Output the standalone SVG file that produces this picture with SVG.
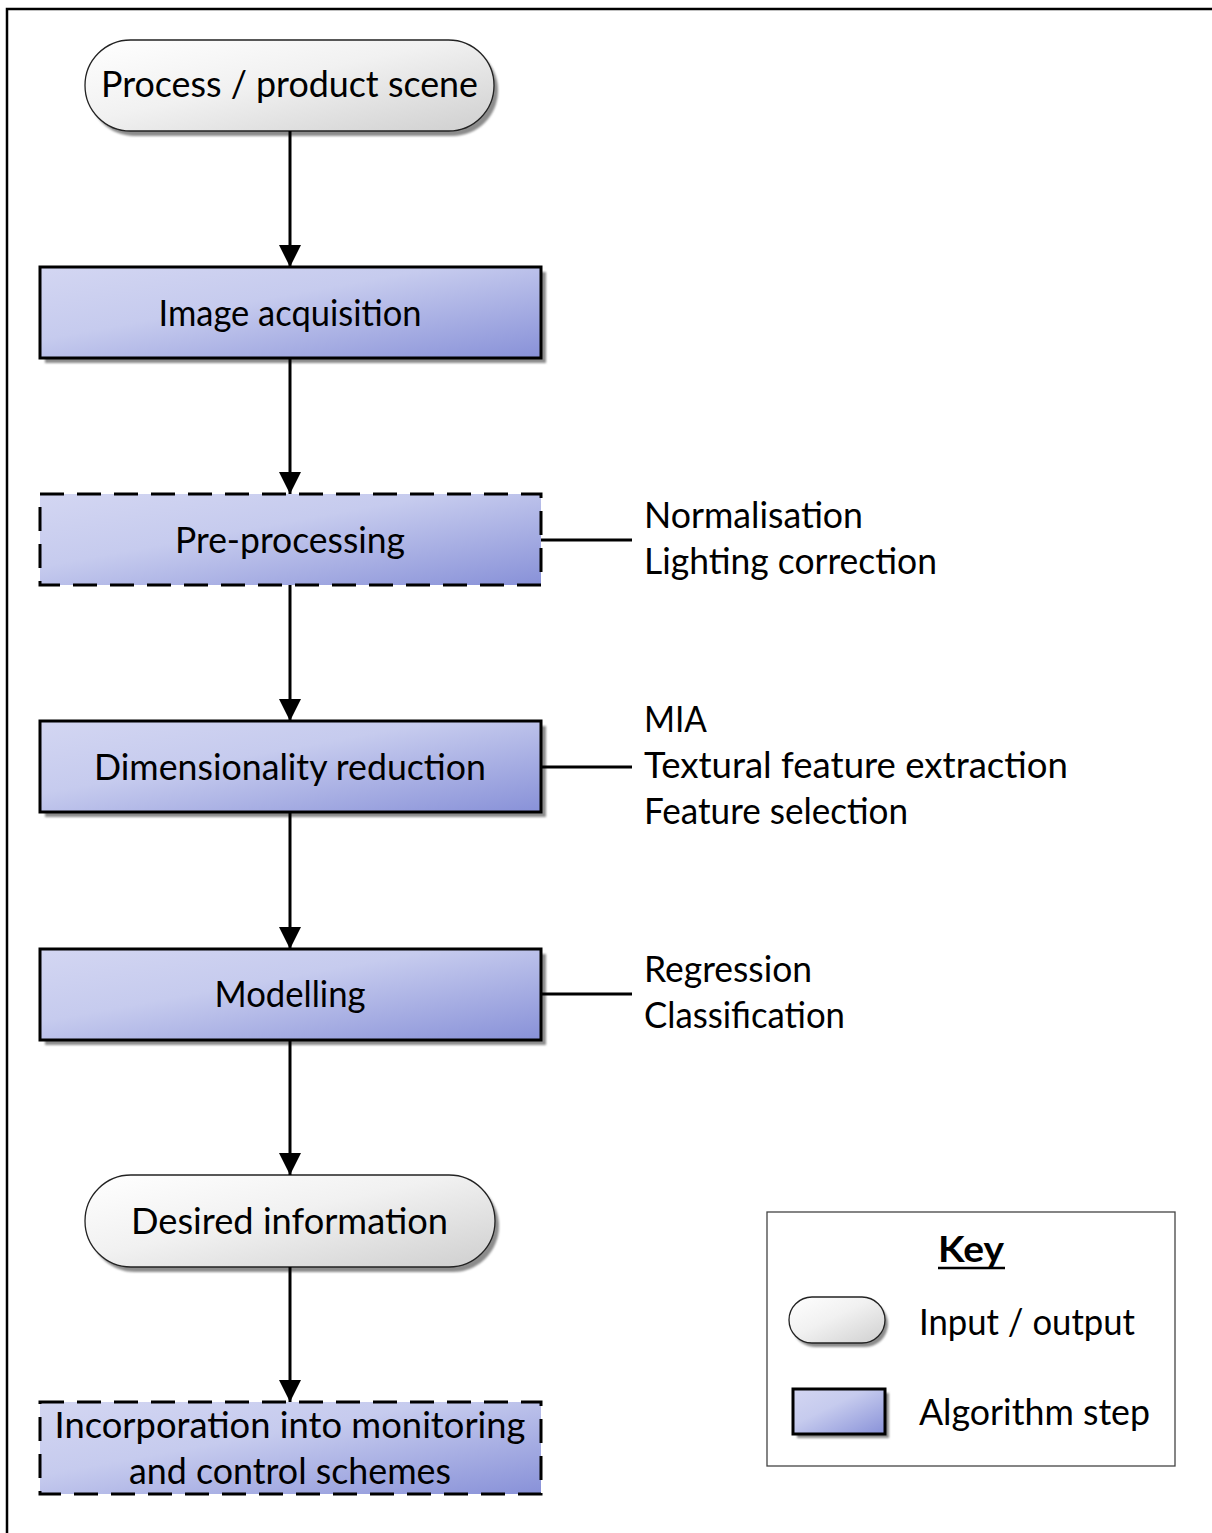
<svg xmlns="http://www.w3.org/2000/svg" width="1212" height="1533" viewBox="0 0 1212 1533">
  <defs>
    <linearGradient id="stepFill" x1="0" y1="0" x2="1" y2="1">
      <stop offset="0" stop-color="#d3d6f2"/>
      <stop offset="0.4" stop-color="#c6cbee"/>
      <stop offset="1" stop-color="#8891d8"/>
    </linearGradient>
    <linearGradient id="ioFill" x1="0" y1="0" x2="1" y2="1">
      <stop offset="0" stop-color="#ffffff"/>
      <stop offset="0.45" stop-color="#f1f1f1"/>
      <stop offset="1" stop-color="#cfcfcf"/>
    </linearGradient>
    <filter id="soft" x="-5%" y="-5%" width="110%" height="110%">
      <feGaussianBlur stdDeviation="1.2"/>
    </filter>
    <marker id="arrow" markerUnits="userSpaceOnUse" viewBox="0 0 22 22" markerWidth="22" markerHeight="22" refX="22" refY="11" orient="auto">
      <path d="M0,0 L22,11 L0,22 z" fill="#000"/>
    </marker>
    <style>
      text { font-family: Lato, "Liberation Sans", sans-serif; font-size: 36px; fill: #000; }
      .mid { text-anchor: middle; }
      .step { fill: url(#stepFill); stroke: #000; stroke-width: 3; }
      .dashed { stroke-dasharray: 24 13; }
      .io { fill: url(#ioFill); stroke: #222; stroke-width: 1.3; }
      .shadow { fill: #8c8c8c; filter: url(#soft); }
      .conn { stroke: #000; stroke-width: 3; fill: none; }
      .frame { stroke: #000; stroke-width: 2.5; fill: none; }
    </style>
  </defs>

  <rect width="1212" height="1533" fill="#fff"/>

  <!-- page frame: top and left rules -->
  <path class="frame" d="M7,1533 L7,9 L1212,9"/>

  <!-- input: process / product scene -->
  <g id="node-scene">
    <rect class="shadow" x="89" y="45" width="409" height="91" rx="45.5"/>
    <rect class="io" x="85" y="40" width="409" height="91" rx="45.5"/>
    <text class="mid" x="289.5" y="97" textLength="377" lengthAdjust="spacingAndGlyphs">Process / product scene</text>
  </g>

  <g id="node-acquisition">
    <rect class="shadow" x="45" y="272" width="501" height="91"/>
    <rect class="step" x="40" y="267" width="501" height="91"/>
    <text class="mid" x="290" y="326" textLength="263" lengthAdjust="spacingAndGlyphs">Image acquisition</text>
  </g>

  <g id="node-preprocessing">
    <rect class="step dashed" x="40" y="494" width="501" height="91"/>
    <text class="mid" x="290" y="553" textLength="230" lengthAdjust="spacingAndGlyphs">Pre-processing</text>
  </g>

  <g id="node-dimreduction">
    <rect class="shadow" x="45" y="726" width="501" height="91"/>
    <rect class="step" x="40" y="721" width="501" height="91"/>
    <text class="mid" x="290" y="780" textLength="392" lengthAdjust="spacingAndGlyphs">Dimensionality reduction</text>
  </g>

  <g id="node-modelling">
    <rect class="shadow" x="45" y="954" width="501" height="91"/>
    <rect class="step" x="40" y="949" width="501" height="91"/>
    <text class="mid" x="290" y="1007" textLength="151" lengthAdjust="spacingAndGlyphs">Modelling</text>
  </g>

  <g id="node-desired">
    <rect class="shadow" x="89" y="1180" width="410" height="92" rx="46"/>
    <rect class="io" x="85" y="1175" width="410" height="92" rx="46"/>
    <text class="mid" x="289.5" y="1234" textLength="317" lengthAdjust="spacingAndGlyphs">Desired information</text>
  </g>

  <g id="node-incorporation">
    <rect class="step dashed" x="40" y="1402" width="501" height="92"/>
    <text class="mid" x="290" y="1438" textLength="471" lengthAdjust="spacingAndGlyphs">Incorporation into monitoring</text>
    <text class="mid" x="290" y="1484" textLength="322" lengthAdjust="spacingAndGlyphs">and control schemes</text>
  </g>

  <!-- connectors, drawn over the node shadows -->
  <g id="connectors">
    <path class="conn" d="M290,131 L290,267" marker-end="url(#arrow)"/>
    <path class="conn" d="M290,358 L290,494" marker-end="url(#arrow)"/>
    <path class="conn" d="M290,585 L290,721" marker-end="url(#arrow)"/>
    <path class="conn" d="M290,812 L290,949" marker-end="url(#arrow)"/>
    <path class="conn" d="M290,1040 L290,1175" marker-end="url(#arrow)"/>
    <path class="conn" d="M290,1267 L290,1402" marker-end="url(#arrow)"/>
    <path class="conn" d="M541,540 L632,540"/>
    <path class="conn" d="M541,767 L632,767"/>
    <path class="conn" d="M541,994 L632,994"/>
  </g>

  <!-- annotations beside steps -->
  <g id="note-preprocessing">
    <text x="644" y="528" textLength="219" lengthAdjust="spacingAndGlyphs">Normalisation</text>
    <text x="644" y="574" textLength="293" lengthAdjust="spacingAndGlyphs">Lighting correction</text>
  </g>
  <g id="note-dimreduction">
    <text x="644" y="732" textLength="63" lengthAdjust="spacingAndGlyphs">MIA</text>
    <text x="644" y="778" textLength="424" lengthAdjust="spacingAndGlyphs">Textural feature extraction</text>
    <text x="644" y="824" textLength="264" lengthAdjust="spacingAndGlyphs">Feature selection</text>
  </g>
  <g id="note-modelling">
    <text x="644" y="982" textLength="168" lengthAdjust="spacingAndGlyphs">Regression</text>
    <text x="644" y="1028" textLength="201" lengthAdjust="spacingAndGlyphs">Classification</text>
  </g>

  <!-- key -->
  <g id="key">
    <rect x="767" y="1212" width="408" height="254" fill="#fff" stroke="#444" stroke-width="1.3"/>
    <text class="mid" x="971" y="1262" font-weight="bold" textLength="66" lengthAdjust="spacingAndGlyphs">Key</text>
    <line x1="938" y1="1268" x2="1005" y2="1268" stroke="#000" stroke-width="2.5"/>
    <rect class="shadow" x="792" y="1301" width="96" height="46" rx="23"/>
    <rect class="io" x="789" y="1297" width="96" height="46" rx="23"/>
    <text x="919" y="1335" textLength="216" lengthAdjust="spacingAndGlyphs">Input / output</text>
    <rect class="shadow" x="797" y="1393" width="92" height="45"/>
    <rect class="step" x="793" y="1389" width="92" height="45"/>
    <text x="919" y="1425" textLength="231" lengthAdjust="spacingAndGlyphs">Algorithm step</text>
  </g>
</svg>
